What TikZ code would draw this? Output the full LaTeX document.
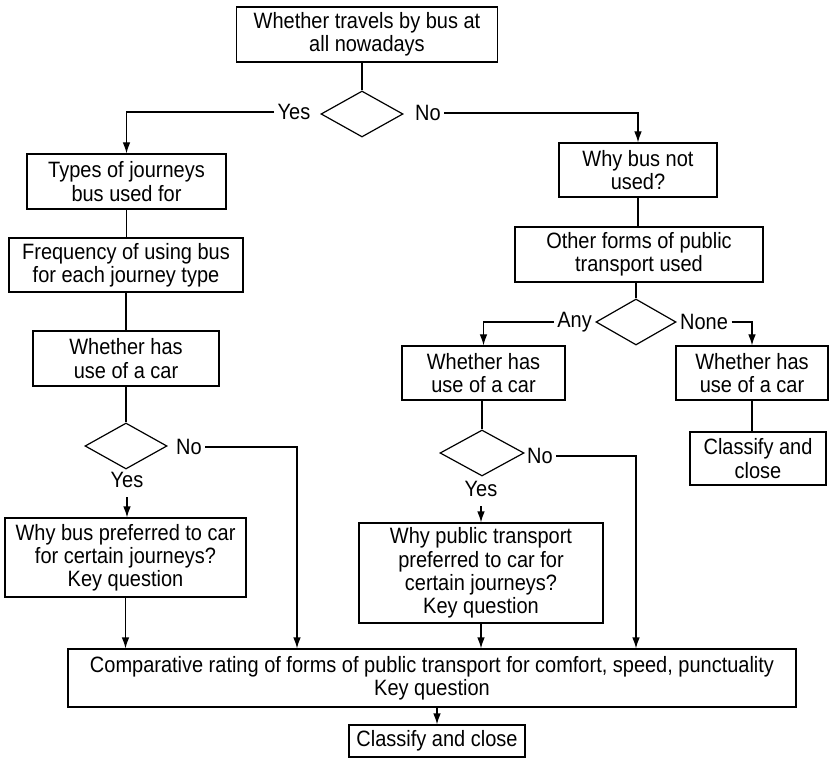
\documentclass[tikz,border=0pt]{standalone}
\usepackage{fontspec}
\setmainfont{Liberation Sans}[FakeStretch=0.9]
\usetikzlibrary{arrows.meta,shapes.geometric}

\begin{document}
\begin{tikzpicture}[
    x=0.5pt, y=-0.5pt,
    >={Latex[length=5.5pt,width=3.8pt]},
    line width=0.6pt,
    font=\fontsize{11.1}{11.6}\selectfont,
    box/.style={
        rectangle,
        draw,
        align=center,
        inner sep=2pt
    },
    decision/.style={
        diamond,
        draw,
        inner sep=0pt,
        minimum width=41pt,
        minimum height=23pt
    },
    answer/.style={inner sep=1.5pt}
]
\useasboundingbox (0,0) rectangle (829,758);

% first question
\node[box, minimum width=130.5pt, minimum height=27.5pt] (bus) at (367,34.5) {Whether travels by bus at\\all nowadays};
\node[decision] (busq) at (362,114) {};
\node[answer] (yes1) at (294,112) {Yes};
\node[answer] (no1) at (428,113) {No};

% bus users
\node[box, minimum width=99.5pt, minimum height=27.5pt] (types) at (126.5,181.5) {Types of journeys\\bus used for};
\node[box, minimum width=117pt, minimum height=27pt] (freq) at (126,265) {Frequency of using bus\\for each journey type};
\node[box, minimum width=93pt, minimum height=27.5pt] (leftcar) at (126,358.5) {Whether has\\use of a car};
\node[decision] (carq1) at (126,446) {};
\node[answer] (yes3) at (127,480) {Yes};
\node[answer] (no3) at (189,447) {No};
\node[box, minimum width=120.5pt, minimum height=39.5pt] (whybus) at (125.5,557.5) {Why bus preferred to car\\for certain journeys?\\Key question};
\coordinate (drop1) at (297,447);

% non users
\node[box, minimum width=79pt, minimum height=27pt] (whyno) at (638,170) {Why bus not\\used?};
\node[box, minimum width=124pt, minimum height=27.5pt] (other) at (639,254.5) {Other forms of public\\transport used};
\node[decision, minimum width=40pt] (modeq) at (636,322) {};
\node[answer, anchor=east] (any) at (modeq.west) {Any};
\node[answer, anchor=west] (none) at (modeq.east) {None};
\node[box, minimum width=81.5pt, minimum height=27pt] (midcar) at (483.5,373) {Whether has\\use of a car};
\node[box, minimum width=76pt, minimum height=27pt] (rightcar) at (752,373) {Whether has\\use of a car};
\node[box, minimum width=68pt, minimum height=26.5pt] (rightclose) at (758,458.5) {Classify and\\close};
\node[decision, minimum width=42pt] (carq2) at (482,453) {};
\node[answer] (yes4) at (481,489) {Yes};
\node[answer] (no4) at (540,456) {No};
\node[box, minimum width=122pt, minimum height=50pt] (whypt) at (481,573) {Why public transport\\preferred to car for\\certain journeys?\\Key question};
\coordinate (drop2) at (636,456);

% end of the interview
\node[box, minimum width=364pt, minimum height=29pt] (comp) at (432,678) {Comparative rating of forms of public transport for comfort, speed, punctuality\\Key question};
\node[box, minimum width=88pt, minimum height=16pt] (close) at (437,741) {Classify and close};

% connectors
\draw (busq.north) -- (busq.north |- bus.south);
\draw[->] (yes1.west) -| (types.north);
\draw[->] (no1.east) -| (whyno.north);
\draw (types.south) -- (types.south |- freq.north);
\draw (freq.south) -- (freq.south |- leftcar.north);
\draw (leftcar.south) -- (leftcar.south |- carq1.north);
\draw[->] ([yshift=-3pt]yes3.south) -- (yes3.south |- whybus.north);
\draw[->] (no3.east) -- (drop1) -- (drop1 |- comp.north);
\draw (whyno.south) -- (whyno.south |- other.north);
\draw (modeq.north |- other.south) -- (modeq.north);
\draw[->] (any.west) -| (midcar.north);
\draw[->] (none.east) -| (rightcar.north);
\draw (rightcar.south) -- (rightcar.south |- rightclose.north);
\draw (carq2.north |- midcar.south) -- (carq2.north);
\draw[->] ([yshift=-3pt]yes4.south) -- (yes4.south |- whypt.north);
\draw[->] (no4.east) -- (drop2) -- (drop2 |- comp.north);
\draw[->] (whybus.south) -- (whybus.south |- comp.north);
\draw[->] (whypt.south) -- (whypt.south |- comp.north);
\draw[->] (comp.south -| close.north) -- (close.north);
\end{tikzpicture}
\end{document}
